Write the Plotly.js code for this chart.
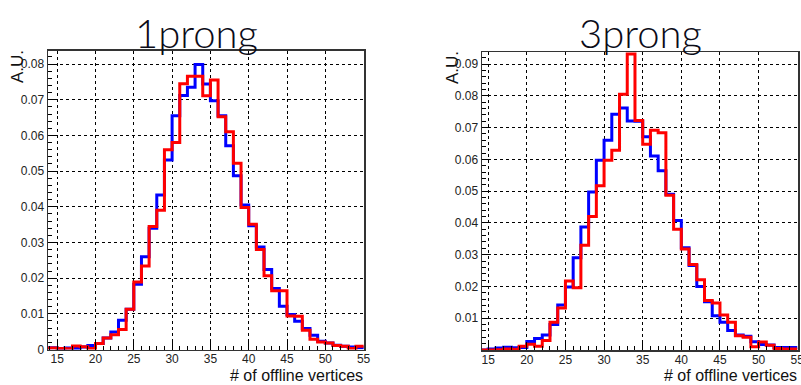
<!DOCTYPE html>
<html>
<head>
<meta charset="utf-8">
<script src="https://cdn.plot.ly/plotly-3.0.1.min.js"></script>
<style>
  html, body { margin: 0; padding: 0; background: #fff; }
  #chart { width: 801px; height: 385px; }
</style>
</head>
<body>
<div id="chart"></div>
<script>
// Number of offline vertices: lower edge of each 1-wide bin
const binLow1 = [13, 14, 15, 16, 17, 18, 19, 20, 21, 22, 23, 24, 25, 26, 27, 28, 29, 30, 31, 32, 33,
                 34, 35, 36, 37, 38, 39, 40, 41, 42, 43, 44, 45, 46, 47, 48, 49, 50, 51, 52, 53, 54];
const binLow3 = [14, 15, 16, 17, 18, 19, 20, 21, 22, 23, 24, 25, 26, 27, 28, 29, 30, 31, 32, 33,
                 34, 35, 36, 37, 38, 39, 40, 41, 42, 43, 44, 45, 46, 47, 48, 49, 50, 51, 52, 53, 54];

// 1prong, normalised (A.U.)
const prong1Blue = [0.0004, 0.0005, 0.0003, 0.0004, 0.0003, 0.0007, 0.0011, 0.0017, 0.0032, 0.0049,
                    0.0082, 0.0113, 0.0183, 0.0260, 0.0340, 0.0433, 0.0531, 0.0655, 0.0712, 0.0735,
                    0.0799, 0.0744, 0.0697, 0.0655, 0.0571, 0.0487, 0.0405, 0.0347, 0.0287, 0.0224,
                    0.0171, 0.0121, 0.0098, 0.0079, 0.0059, 0.0040, 0.0023, 0.0018, 0.0012, 0.0009,
                    0.0007, 0.0005];
const prong1Red  = [0.0004, 0.0004, 0.0003, 0.0002, 0.0010, 0.0008, 0.0003, 0.0017, 0.0032, 0.0041,
                    0.0056, 0.0113, 0.0189, 0.0234, 0.0345, 0.0390, 0.0560, 0.0580, 0.0745, 0.0766,
                    0.0766, 0.0711, 0.0755, 0.0652, 0.0610, 0.0522, 0.0398, 0.0351, 0.0280, 0.0207,
                    0.0165, 0.0165, 0.0094, 0.0093, 0.0054, 0.0029, 0.0021, 0.0018, 0.0011, 0.0009,
                    0.0003, 0.0009];

// 3prong, normalised (A.U.)
const prong3Blue = [0.0000, 0.0003, 0.0006, 0.0009, 0.0007, 0.0008, 0.0027, 0.0036, 0.0047, 0.0080,
                    0.0142, 0.0198, 0.0290, 0.0387, 0.0497, 0.0597, 0.0660, 0.0742, 0.0762, 0.0721,
                    0.0720, 0.0671, 0.0611, 0.0564, 0.0490, 0.0408, 0.0322, 0.0266, 0.0200, 0.0152,
                    0.0108, 0.0087, 0.0061, 0.0047, 0.0043, 0.0026, 0.0017, 0.0016, 0.0008, 0.0008,
                    0.0008];
const prong3Red  = [0.0000, 0.0000, 0.0001, 0.0003, 0.0002, 0.0012, 0.0018, 0.0012, 0.0030, 0.0087,
                    0.0132, 0.0217, 0.0196, 0.0330, 0.0420, 0.0517, 0.0597, 0.0629, 0.0805, 0.0932,
                    0.0722, 0.0648, 0.0692, 0.0684, 0.0487, 0.0380, 0.0318, 0.0269, 0.0221, 0.0156,
                    0.0148, 0.0110, 0.0087, 0.0045, 0.0040, 0.0010, 0.0025, 0.0015, 0.0005, 0.0003,
                    0.0003];

const xTicks = [15, 20, 25, 30, 35, 40, 45, 50, 55];
const yTicks1 = [0, 0.01, 0.02, 0.03, 0.04, 0.05, 0.06, 0.07, 0.08];
const yTicks3 = [0.01, 0.02, 0.03, 0.04, 0.05, 0.06, 0.07, 0.08, 0.09];

const panelTitles = ['1prong', '3prong'];
const xTitle = '# of offline vertices';
const yTitle = 'A.U.';

// Step outline of a histogram: horizontal across each bin, vertical at the edges
function stepTrace(lows, vals, color, xa, ya) {
  const x = lows.slice();
  x.push(lows[lows.length - 1] + 1);
  const y = vals.slice();
  y.push(vals[vals.length - 1]);
  return {
    type: 'scatter', mode: 'lines', x: x, y: y, xaxis: xa, yaxis: ya,
    line: { shape: 'hv', color: color, width: 3 },
    hoverinfo: 'skip', showlegend: false
  };
}

const traces = [
  stepTrace(binLow1, prong1Blue, '#0000ff', 'x', 'y'),
  stepTrace(binLow1, prong1Red, '#ff0000', 'x', 'y'),
  stepTrace(binLow3, prong3Blue, '#0000ff', 'x2', 'y2'),
  stepTrace(binLow3, prong3Red, '#ff0000', 'x2', 'y2')
];

const W = 801, H = 385;
const px = v => v / W;
const py = v => 1 - v / H;

const tickFont = { family: 'Liberation Sans, Arial, sans-serif', size: 12, color: '#222' };

function xAxis(domain, range, anchor) {
  return {
    domain: domain, range: range, anchor: anchor,
    tickmode: 'array', tickvals: xTicks, ticklabeloverflow: 'allow', ticklabelstandoff: -2,
    ticks: 'inside', ticklen: 8, tickwidth: 1, tickcolor: '#000',
    minor: { tickmode: 'linear', tick0: 0, dtick: 1, ticks: 'inside', ticklen: 4, tickwidth: 1, tickcolor: '#000', showgrid: false },
    showgrid: true, gridcolor: '#000', griddash: 'dot', gridwidth: 1,
    showline: true, linecolor: '#333', linewidth: 1.5, mirror: true,
    zeroline: false, tickfont: tickFont, fixedrange: true
  };
}
function yAxis(domain, range, anchor, vals) {
  return {
    domain: domain, range: range, anchor: anchor,
    tickmode: 'array', tickvals: vals,
    ticks: 'inside', ticklen: 8, tickwidth: 1, tickcolor: '#000',
    minor: { tickmode: 'linear', tick0: 0, dtick: 0.002, ticks: 'inside', ticklen: 4, tickwidth: 1, tickcolor: '#000', showgrid: false },
    showgrid: true, gridcolor: '#000', griddash: 'dot', gridwidth: 1,
    showline: true, linecolor: '#333', linewidth: 1.5, mirror: true,
    zeroline: false, tickfont: tickFont, ticklabelstandoff: 0, fixedrange: true
  };
}

const titleFont = { family: 'Lato, DejaVu Sans, sans-serif', size: 40, weight: 300, color: '#0b0b18' };
const labelFont = { family: 'Liberation Sans, Arial, sans-serif', size: 17, color: '#111' };
const xLabelFont = { family: 'Liberation Sans, Arial, sans-serif', size: 16, color: '#111' };

const layout = {
  width: W, height: H,
  margin: { l: 0, r: 0, t: 0, b: 0 },
  paper_bgcolor: '#fff', plot_bgcolor: '#fff',
  xaxis: xAxis([px(48), px(364)], [13.8, 55.05], 'y'),
  yaxis: yAxis([py(349.5), py(50.5)], [0, 0.0838], 'x', yTicks1),
  xaxis2: xAxis([px(482), px(798)], [14.2, 55.1], 'y2'),
  yaxis2: yAxis([py(350), py(52)], [0, 0.0938], 'x2', yTicks3),
  annotations: [
    { text: panelTitles[0], xref: 'paper', yref: 'paper', x: px(196), y: py(33), xanchor: 'center', yanchor: 'middle', showarrow: false, font: titleFont },
    { text: panelTitles[1], xref: 'paper', yref: 'paper', x: px(640), y: py(33), xanchor: 'center', yanchor: 'middle', showarrow: false, font: titleFont },
    { text: yTitle, xref: 'paper', yref: 'paper', x: px(18), y: py(67), xanchor: 'center', yanchor: 'middle', textangle: -90, showarrow: false, font: labelFont },
    { text: yTitle, xref: 'paper', yref: 'paper', x: px(452), y: py(68), xanchor: 'center', yanchor: 'middle', textangle: -90, showarrow: false, font: labelFont },
    { text: xTitle, xref: 'paper', yref: 'paper', x: px(364), y: 0, xanchor: 'right', yanchor: 'bottom', borderpad: 0, showarrow: false, font: xLabelFont },
    { text: xTitle, xref: 'paper', yref: 'paper', x: px(798), y: 0, xanchor: 'right', yanchor: 'bottom', borderpad: 0, showarrow: false, font: xLabelFont }
  ]
};

Plotly.newPlot('chart', traces, layout, { staticPlot: true, displayModeBar: false });
</script>
</body>
</html>
